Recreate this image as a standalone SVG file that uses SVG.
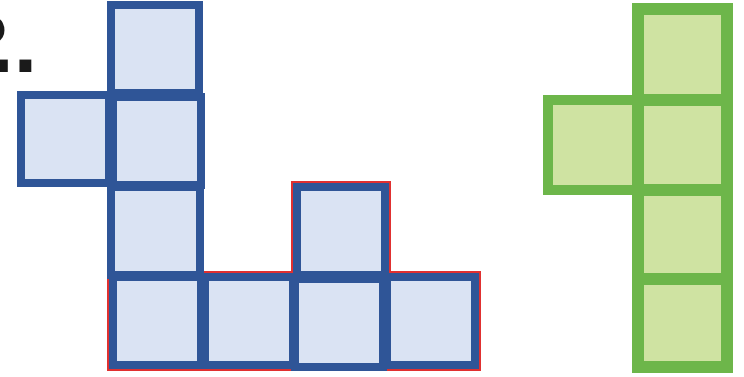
<svg xmlns="http://www.w3.org/2000/svg" width="744" height="377" viewBox="0 0 744 377">
<style>
.b{fill:#DAE3F3;stroke:#2F5597;stroke-width:8}
.g{fill:#CFE3A2;stroke:#6DB64A;stroke-width:12}
.t{font-family:"Liberation Sans",Arial,sans-serif;font-weight:bold;fill:#1a1a1a}
</style>
<rect width="744" height="377" fill="#ffffff"/>
<g id="label">
<text class="t" x="-42" y="72" font-size="84">?<tspan dx="-19">.</tspan>.</text>
</g>
<g id="outline">
<polygon points="108,272 292,272 292,182 390,182 390,272 480,272 480,370 108,370" fill="none" stroke="#E03030" stroke-width="2"/>
</g>
<g id="blue-shape">
<rect id="b-top" class="b" x="111" y="5" width="88" height="88"/>
<rect id="b-left" class="b" x="21" y="95" width="88" height="88"/>
<rect id="b-mid" class="b" x="113" y="97" width="88" height="88"/>
<rect id="b-row3" class="b" x="111" y="187" width="89" height="88"/>
<rect id="b-col3top" class="b" x="297" y="187" width="88" height="88"/>
<rect id="b-bot1" class="b" x="113" y="277" width="88" height="88"/>
<rect id="b-bot2" class="b" x="205" y="277" width="88" height="88"/>
<rect id="b-bot3" class="b" x="295" y="279" width="88" height="88"/>
<rect id="b-bot4" class="b" x="387" y="277" width="88" height="88"/>
</g>
<g id="green-shape">
<rect id="g-left" class="g" x="548" y="100" width="90" height="90" style="stroke-width:10"/>
<rect id="g-r1" class="g" x="638" y="9" width="89" height="91"/>
<rect id="g-r2" class="g" x="638" y="100" width="89" height="90"/>
<rect id="g-r3" class="g" x="638" y="190" width="89" height="89"/>
<rect id="g-r4" class="g" x="638" y="279" width="89" height="88"/>
</g>
<g id="connectors"/>
</svg>
